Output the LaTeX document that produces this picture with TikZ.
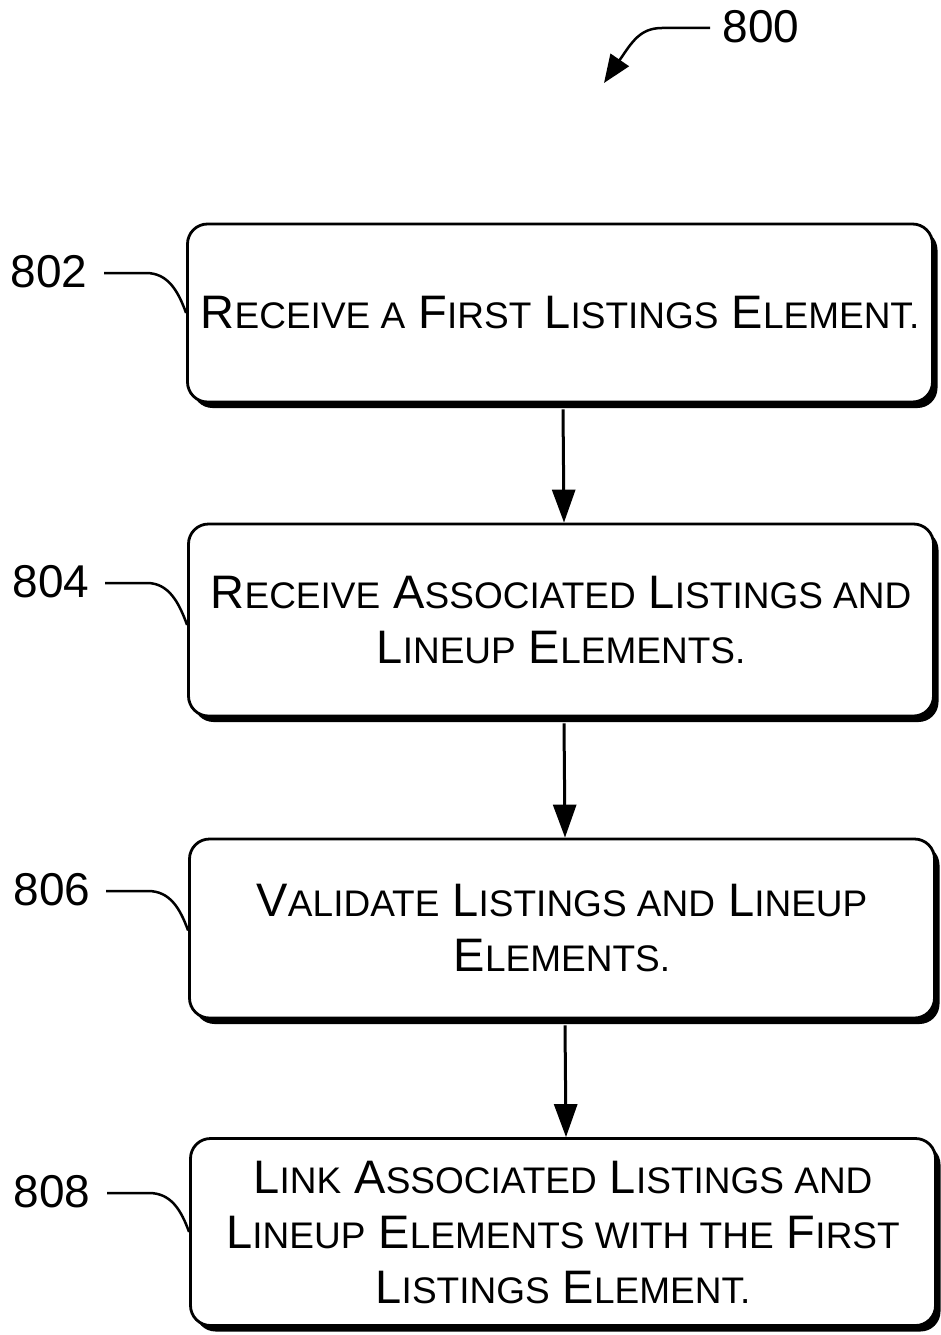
\documentclass[tikz,border=0pt]{standalone}
\usepackage{fontspec}
\setmainfont{Liberation Sans}
\usetikzlibrary{arrows.meta,shadows}
\newcommand\scx[1]{{\fontsize{37}{55}\selectfont #1}}
\tikzset{
  stepbox/.style={draw=black, line width=2.8pt, fill=white, rounded corners=20pt,
    minimum width=745pt, align=center, inner sep=0pt,
    font=\fontsize{47}{55}\selectfont,
    drop shadow={shadow xshift=5pt, shadow yshift=-6pt, fill=black, opacity=1}},
  reflabel/.style={font=\fontsize{46}{52}\selectfont, inner sep=0pt},
  leader/.style={line width=2.5pt},
  flow/.style={line width=3pt, -{Triangle[length=33pt,width=23pt]}},
}
\begin{document}
\begin{tikzpicture}[x=1pt,y=-1pt]
\useasboundingbox (0,0) rectangle (941,1335);

% boxes
\node[stepbox, minimum height=178pt] (b1) at (560,313)
  {R\scx{ECEIVE A} F\scx{IRST} L\scx{ISTINGS} E\scx{LEMENT.}};
\node[stepbox, minimum height=192pt] (b2) at (561,620)
  {R\scx{ECEIVE} A\scx{SSOCIATED} L\scx{ISTINGS AND}\\L\scx{INEUP} E\scx{LEMENTS.}};
\node[stepbox, minimum height=179pt] (b3) at (562,928.5)
  {V\scx{ALIDATE} L\scx{ISTINGS AND} L\scx{INEUP}\\E\scx{LEMENTS.}};
\node[stepbox, minimum height=187pt] (b4) at (563,1232)
  {L\scx{INK} A\scx{SSOCIATED} L\scx{ISTINGS AND}\\L\scx{INEUP} E\scx{LEMENTS WITH THE} F\scx{IRST}\\L\scx{ISTINGS} E\scx{LEMENT.}};

% flow arrows
\draw[flow] ([xshift=3pt,yshift=-6pt]b1.south) -- ([xshift=3pt]b2.north);
\draw[flow] ([xshift=3pt,yshift=-6pt]b2.south) -- ([xshift=3pt]b3.north);
\draw[flow] ([xshift=3pt,yshift=-6pt]b3.south) -- ([xshift=3pt]b4.north);

% reference labels
\node[reflabel] (l802) at (49,272) {802};
\node[reflabel] (l804) at (51,582) {804};
\node[reflabel] (l806) at (52,890) {806};
\node[reflabel] (l808) at (52,1192) {808};

\coordinate (s802) at (104,273);
\coordinate (s804) at (105,583);
\coordinate (s806) at (106,891);
\coordinate (s808) at (107,1193);

\draw[leader] (s802) -- ++(42,0) .. controls ++(22,0) and ++(-8,-22) .. (b1.west);
\draw[leader] (s804) -- ++(42,0) .. controls ++(22,0) and ++(-8,-22) .. ([yshift=-5pt]b2.west);
\draw[leader] (s806) -- ++(42,0) .. controls ++(22,0) and ++(-8,-22) .. ([yshift=-2pt]b3.west);
\draw[leader] (s808) -- ++(42,0) .. controls ++(22,0) and ++(-8,-22) .. (b4.west);

% figure number
\node[reflabel] (l800) at (761,27) {800};
\coordinate (s800) at (710,28);
\coordinate (t800) at (604,83);
\draw[line width=2.5pt, -{Triangle[length=28pt,width=22pt]}]
  (s800) -- (662,28) .. controls (640,28) and (632,42) .. (t800);
\end{tikzpicture}
\end{document}
